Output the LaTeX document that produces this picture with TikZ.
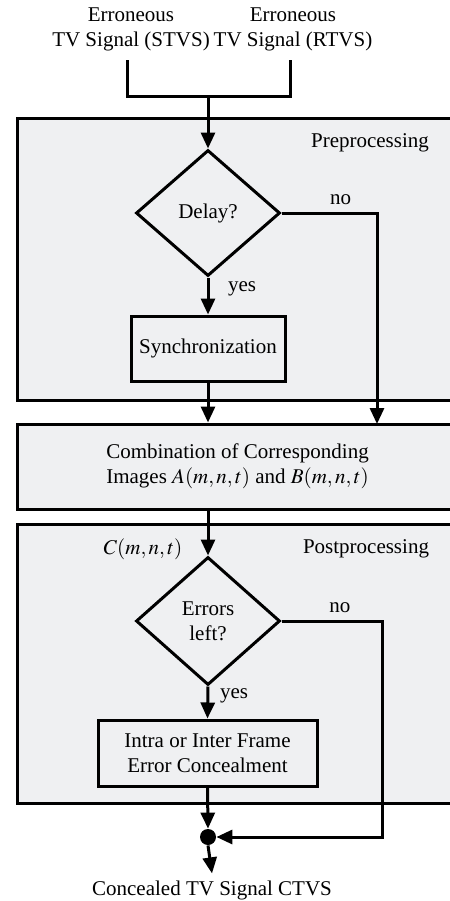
\documentclass[tikz,border=0pt]{standalone}
\usepackage{mathptmx}
\usepackage[no-math]{fontspec}
\setmainfont{Liberation Serif}
\usepackage{tikz}
\usetikzlibrary{arrows.meta, positioning, shapes.geometric}

\definecolor{panelgray}{RGB}{239,240,242}

\begin{document}
\begin{tikzpicture}[
    x=0.5pt, y=-0.5pt,
    every node/.style={font=\fontsize{10.5}{12.5}\selectfont},
    panel/.style={draw, line width=1.5pt, fill=panelgray},
    block/.style={rectangle, draw, line width=1.5pt, fill=panelgray, align=center, inner sep=2pt},
    decision/.style={diamond, draw, line width=1.5pt, fill=panelgray, align=center, inner sep=0pt, minimum width=72pt},
    arrow/.style={-{Triangle[width=7pt, length=8pt]}, line width=1.5pt},
    wire/.style={line width=1.5pt},
    junction/.style={circle, fill, inner sep=0pt, minimum size=8pt}
]
\clip (0,0) rectangle (450,901);

% background panels
\draw[panel] (17,118) rectangle (460,400);
\draw[panel] (17,524) rectangle (460,803);

% inputs
\node[align=center] (stvs) at (131,29) {Erroneous\\TV Signal (STVS)};
\node[align=center] (rtvs) at (293,29) {Erroneous\\TV Signal (RTVS)};
\coordinate (s1) at (127,60);
\coordinate (s2) at (290,60);
\coordinate (merge) at (208,96);

% preprocessing
\node (pre) at (370,143) {Preprocessing};
\node[decision, minimum height=63pt] (delay) at (208,213) {Delay?};
\node[block, minimum width=77pt, minimum height=32.5pt] (sync) at (208,348.5) {Synchronization};
\coordinate (skip1) at (377,424);

% combination
\node[block, minimum width=220.5pt, minimum height=42.5pt] (comb) at (237.5,466.5)
    {Combination of Corresponding\\Images $A(m,n,t)$ and $B(m,n,t)$};

% postprocessing
\node (cmnt) at (143,549) {$C(m,n,t)$};
\node (post) at (366,549) {Postprocessing};
\node[decision, minimum height=64pt] (errors) at (208,621) {Errors\\left?};
\node[block, minimum width=109.5pt, minimum height=33pt] (conceal) at (207.5,753)
    {Intra or Inter Frame\\Error Concealment};
\coordinate (skip2) at (382,837);
\node[junction] (dot) at (208,837) {};

% output
\node (ctvs) at (212,890) {Concealed TV Signal CTVS};

% connectors
\draw[wire] (s1) |- (merge) -| (s2);
\draw[arrow] (merge) -- (delay.north);
\draw[arrow] (delay.south) -- node[right=6pt, pos=0.3] {yes} (sync.north);
\draw[arrow] (delay.east) -| node[above, pos=0.31] {no} (skip1);
\draw[arrow] (sync.south) -- (sync.south |- comb.north);
\draw[arrow] (comb.south -| errors.north) -- (errors.north);
\draw[arrow] (errors.south) -- node[right=2pt, pos=0.3] {yes} (conceal.north);
\draw[arrow] (errors.east) -| node[above, pos=0.29] {no} (skip2) -- (dot.east);
\draw[arrow] (conceal.south) -- (dot.north);
\draw[arrow] (dot.south) -- (ctvs.north);

\end{tikzpicture}
\end{document}
